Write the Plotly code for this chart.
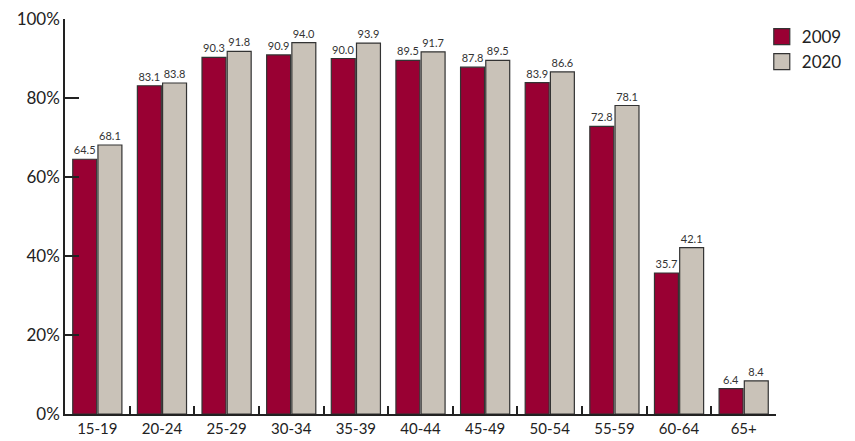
import plotly.graph_objects as go

categories = ["15-19", "20-24", "25-29", "30-34", "35-39", "40-44", "45-49", "50-54", "55-59", "60-64", "65+"]
values_2009 = [64.5, 83.1, 90.3, 90.9, 90.0, 89.5, 87.8, 83.9, 72.8, 35.7, 6.4]
values_2020 = [68.1, 83.8, 91.8, 94.0, 93.9, 91.7, 89.5, 86.6, 78.1, 42.1, 8.4]
series_names = ["2009", "2020"]
y_tick_vals = [0, 20, 40, 60, 80, 100]
y_tick_text = ["0%", "20%", "40%", "60%", "80%", "100%"]

RED = "#990033"
GREY = "#c9c2b8"
EDGE = "#333333"
FONT = "Lato, sans-serif"

fig = go.Figure()
for name, vals, col in [(series_names[0], values_2009, RED), (series_names[1], values_2020, GREY)]:
    fig.add_trace(go.Bar(
        x=categories, y=vals, name=name,
        marker=dict(color=col, line=dict(color=EDGE, width=1.2)),
        text=[f"{v:.1f}" for v in vals], textposition="outside",
        textfont=dict(size=11, color="#333333", family=FONT),
        cliponaxis=False, showlegend=False,
    ))
    fig.add_trace(go.Scatter(
        x=[None], y=[None], mode="markers", name=name,
        marker=dict(symbol="square", size=22, color=col, line=dict(color=EDGE, width=1.2)),
        showlegend=True,
    ))

# page body adds an 8px offset; size and margins compensate so the plot sits at 65..776 x 19..414 on screen
fig.update_layout(
    width=847, height=433,
    margin=dict(l=57, r=79, t=11, b=27, autoexpand=False),
    paper_bgcolor="white", plot_bgcolor="white",
    barmode="group", bargap=0.22, bargroupgap=0.05,
    font=dict(family=FONT, color="#222222"),
    legend=dict(x=0.98, y=1.0, xanchor="left", yanchor="top",
                font=dict(size=17, family=FONT, color="#222222"),
                itemsizing="trace", tracegroupgap=2, bgcolor="rgba(0,0,0,0)"),
    xaxis=dict(
        showline=True, linecolor="#222222", linewidth=1.5, automargin=False,
        ticks="inside", tickson="boundaries", ticklen=8, tickcolor="#222222", tickwidth=1.5,
        tickfont=dict(size=15, family=FONT, color="#222222"),
        showgrid=False, zeroline=False,
    ),
    yaxis=dict(
        range=[0, 100], showline=True, linecolor="#222222", linewidth=1.5, automargin=False,
        ticks="inside", ticklen=14, tickcolor="#222222", tickwidth=1.5,
        tickvals=y_tick_vals, ticktext=y_tick_text, ticklabeloverflow="allow",
        tickfont=dict(size=17, family=FONT, color="#222222"),
        showgrid=False, zeroline=False,
    ),
)

fig.write_html("out.html")
